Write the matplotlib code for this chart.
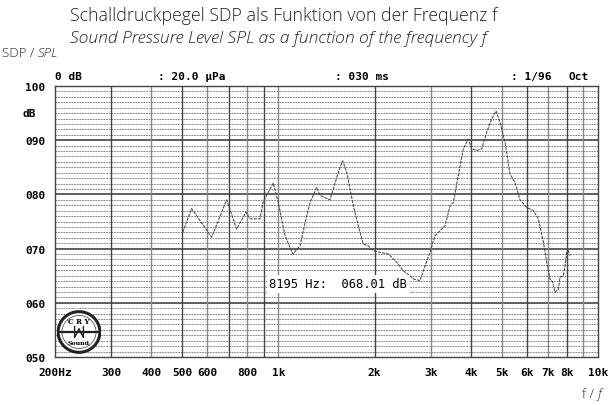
import numpy as np
import matplotlib
matplotlib.use("Agg")
import matplotlib.pyplot as plt
from matplotlib.patches import Ellipse

# measured curve (Hz, dB)
freq = [502, 535, 618, 689, 740, 792, 815, 876, 895, 964, 999, 1049, 1109,
        1169, 1212, 1256, 1318, 1350, 1450, 1485, 1540, 1589, 1636, 1716,
        1779, 1844, 1910, 1982, 2079, 2208, 2346, 2459, 2581, 2643, 2773,
        2841, 2981, 3090, 3203, 3322, 3444, 3526, 3656, 3790, 3929, 4027,
        4174, 4328, 4487, 4648, 4797, 4936, 5118, 5303, 5500, 5703, 5984,
        6273, 6507, 6746, 6913, 7077, 7216, 7335, 7514, 7606, 7789, 7884,
        7985, 8078, 8176]
spl = [73.0, 77.4, 72.1, 79.0, 73.6, 76.7, 75.5, 75.5, 78.6, 82.1, 78.5, 72.4,
       69.0, 70.5, 74.8, 78.5, 81.3, 79.8, 79.0, 81.0, 84.1, 86.2, 84.1, 77.9,
       74.2, 70.8, 70.5, 69.6, 69.3, 69.0, 67.5, 65.9, 65.0, 64.4, 64.1, 65.9,
       69.3, 72.4, 73.3, 74.2, 77.9, 78.5, 83.5, 88.4, 90.2, 88.4, 88.1, 88.4,
       91.5, 93.9, 95.4, 93.3, 89.6, 83.8, 82.2, 79.0, 77.6, 77.0, 75.5, 71.2,
       67.5, 64.4, 63.8, 61.9, 62.5, 64.7, 65.0, 66.8, 69.3, 69.6, 68.7]

x_ticks = [200, 300, 400, 500, 600, 800, 1000, 2000, 3000, 4000, 5000, 6000, 7000, 8000, 10000]
x_labels = ['200Hz', '300', '400', '500', '600', '800', '1k', '2k', '3k', '4k', '5k', '6k', '7k', '8k', '10k']
x_grid = [300, 400, 500, 600, 700, 800, 900, 1000, 2000, 3000, 4000, 5000, 6000, 7000, 8000, 9000]
y_ticks = [50, 60, 70, 80, 90, 100]
y_labels = ['050', '060', '070', '080', '090', '100']
header = [('0 dB', 0.0), (': 20.0 µPa', 0.19), (': 030 ms', 0.515), (': 1/96', 0.84), ('Oct', 0.945)]

mono = dict(family='DejaVu Sans Mono', weight='bold', size=8)
grey = '#222222'

fig = plt.figure(figsize=(6.11, 4.06), dpi=100)
ax = fig.add_axes([55 / 611, 1 - 358 / 406, 543 / 611, 271 / 406])
ax.set_xscale('log')
ax.set_xlim(200, 10000)
ax.set_ylim(50, 100)

# grid
for v in range(51, 100):
    if v % 10:
        ax.axhline(v, color='#666666', lw=0.6, ls=(0, (2, 1.2)), zorder=1)
for v in [60, 70, 80, 90]:
    ax.axhline(v, color='#333333', lw=1.1, zorder=2)
for i, f in enumerate(x_grid):
    ax.axvline(f, color='#444444' if i % 2 == 0 else '#888888', lw=1.0, zorder=2)

ax.plot(freq, spl, color='#444444', lw=0.75, ls=(0, (3, 1)), zorder=3)

for s in ax.spines.values():
    s.set_color('#444444')
    s.set_linewidth(1.0)

ax.set_xticks(x_ticks)
ax.set_xticklabels(x_labels, fontdict=mono)
ax.xaxis.set_minor_locator(matplotlib.ticker.NullLocator())
ax.set_yticks(y_ticks)
ax.set_yticklabels(y_labels, fontdict=mono)
ax.tick_params(length=0, pad=7)
ax.text(-0.047, 0.9, 'dB', transform=ax.transAxes, ha='center', va='center', **mono)

for txt, xp in header:
    ax.text(xp, 1.02, txt, transform=ax.transAxes, ha='left', va='bottom', **mono)

# readout box
ax.text(0.395, 0.27, '8195 Hz:  068.01 dB', transform=ax.transAxes, ha='left', va='center',
        bbox=dict(facecolor='white', edgecolor='none', pad=2), zorder=4,
        family='DejaVu Sans Mono', size=8.7)

# logo
lg = fig.add_axes([57 / 611, 1 - 355 / 406, 44 / 611, 44 / 406])
lg.set_xlim(-1, 1)
lg.set_ylim(-1, 1)
lg.axis('off')
lg.add_patch(Ellipse((0, 0), 1.9, 1.85, facecolor='white', edgecolor='#222222', lw=2.2))
lg.add_patch(Ellipse((0, 0), 1.55, 1.5, facecolor='none', edgecolor='#555555', lw=0.6))
lg.plot([-0.9, 0.9], [0, 0], color='#222222', lw=1.6)
lg.plot([-0.2, -0.2, 0.0, 0.2, 0.2], [0.25, -0.25, 0.15, -0.25, 0.25], color='#222222', lw=1.0)
lg.text(0, 0.5, 'C R Y', ha='center', va='center', size=5, weight='bold', family='DejaVu Serif')
lg.text(0, -0.5, 'Sound', ha='center', va='center', size=4.5, weight='bold', family='DejaVu Serif')

# titles
fig.text(70 / 611, 1 - 21 / 406, 'Schalldruckpegel SDP als Funktion von der Frequenz f',
         family='Open Sans', weight='light', size=12.8, ha='left', va='baseline', color=grey)
fig.text(70 / 611, 1 - 43 / 406, 'Sound Pressure Level SPL as a function of the frequency f',
         family='Open Sans', weight='light', style='italic', size=12.6, ha='left', va='baseline', color=grey)
fig.text(2 / 611, 1 - 57 / 406, 'SDP /', family='Open Sans', weight='light', size=9.5,
         ha='left', va='baseline', color=grey)
fig.text(38 / 611, 1 - 57 / 406, 'SPL', family='Open Sans', weight='light', style='italic', size=9.5,
         ha='left', va='baseline', color=grey)
fig.text(582 / 611, 1 - 398 / 406, 'f /', family='Open Sans', weight='light', size=9.5,
         ha='left', va='baseline', color=grey)
fig.text(598 / 611, 1 - 398 / 406, 'f', family='Open Sans', weight='light', style='italic', size=9.5,
         ha='left', va='baseline', color=grey)

fig.savefig('out.png', dpi=100)
